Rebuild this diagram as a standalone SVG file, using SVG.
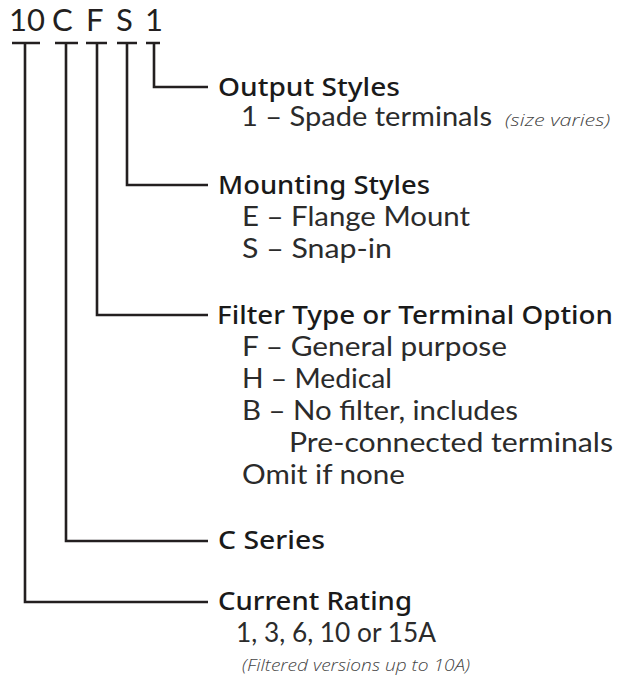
<svg xmlns="http://www.w3.org/2000/svg" width="618" height="677" viewBox="0 0 618 677">
<style>
  .t { font-family: Lato, "Noto Sans", sans-serif; font-size: 31px; fill: #231f20; }
  .h { font-family: "Noto Sans", "Open Sans", sans-serif; font-size: 25px; font-weight: 500; fill: #1a1a1a; }
  .b { font-family: Lato, "Noto Sans", sans-serif; font-size: 26px; font-weight: 400; fill: #2b2b2b; }
  .i { font-family: "Open Sans", "Noto Sans", sans-serif; font-size: 16px; font-style: italic; font-weight: 300; fill: #444; }
  .c { fill: none; stroke: #231f20; stroke-width: 2.6; stroke-linecap: butt; stroke-linejoin: miter; }
</style>
<rect width="618" height="677" fill="#ffffff"/>
<g id="code">
  <text class="t" y="31"><tspan x="9">10</tspan> <tspan x="52">C</tspan> <tspan x="86">F</tspan> <tspan x="116">S</tspan> <tspan x="145">1</tspan></text>
</g>
<g id="connectors">
  <path class="c" d="M12 43H40M25 43V602H208"/>
  <path class="c" d="M55 43H78M66 43V541H208"/>
  <path class="c" d="M86 43H107M97 43V315H208"/>
  <path class="c" d="M117 43H137M127 43V185H208"/>
  <path class="c" d="M146 43H160M154 43V87H208"/>
</g>
<g id="output-styles">
  <text class="h" x="218" y="96" textLength="182" lengthAdjust="spacingAndGlyphs">Output Styles</text>
  <text class="b" x="241" y="126" textLength="251" lengthAdjust="spacingAndGlyphs">1 – Spade terminals</text>
  <text class="i" x="505" y="126" textLength="105" lengthAdjust="spacingAndGlyphs">(size varies)</text>
</g>
<g id="mounting-styles">
  <text class="h" x="218" y="194" textLength="212" lengthAdjust="spacingAndGlyphs">Mounting Styles</text>
  <text class="b" x="242" y="226" textLength="228" lengthAdjust="spacingAndGlyphs">E – Flange Mount</text>
  <text class="b" x="242" y="258" textLength="150" lengthAdjust="spacingAndGlyphs">S – Snap-in</text>
</g>
<g id="filter-type">
  <text class="h" x="217" y="324" textLength="396" lengthAdjust="spacingAndGlyphs">Filter Type or Terminal Option</text>
  <text class="b" x="242" y="356" textLength="265" lengthAdjust="spacingAndGlyphs">F – General purpose</text>
  <text class="b" x="242" y="388" textLength="150" lengthAdjust="spacingAndGlyphs">H – Medical</text>
  <text class="b" x="242" y="420" textLength="276" lengthAdjust="spacingAndGlyphs">B – No filter, includes</text>
  <text class="b" x="289" y="452" textLength="324" lengthAdjust="spacingAndGlyphs">Pre-connected terminals</text>
  <text class="b" x="242" y="484" textLength="163" lengthAdjust="spacingAndGlyphs">Omit if none</text>
</g>
<g id="c-series">
  <text class="h" x="218" y="549" textLength="107" lengthAdjust="spacingAndGlyphs">C Series</text>
</g>
<g id="current-rating">
  <text class="h" x="218" y="610" textLength="194" lengthAdjust="spacingAndGlyphs">Current Rating</text>
  <text class="b" x="236" y="642" textLength="200" lengthAdjust="spacingAndGlyphs">1, 3, 6, 10 or 15A</text>
  <text class="i" x="242" y="671" textLength="228" lengthAdjust="spacingAndGlyphs">(Filtered versions up to 10A)</text>
</g>
</svg>
